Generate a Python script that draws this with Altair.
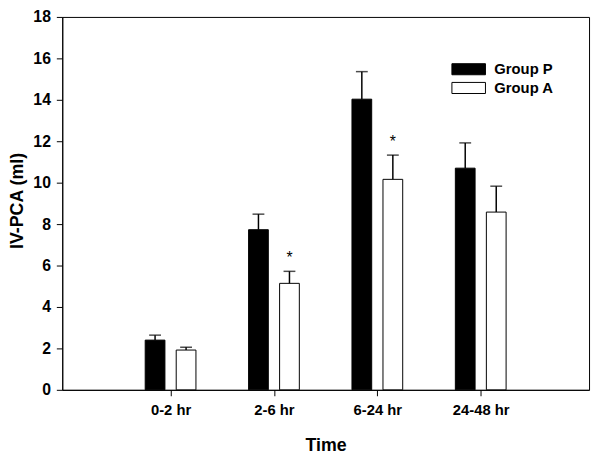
import json
import altair as alt
import pandas as pd

categories = ["0-2 hr", "2-6 hr", "6-24 hr", "24-48 hr"]
groups = ["Group P", "Group A"]
p_mean = [2.40, 7.73, 14.03, 10.70]
p_upper = [2.64, 8.48, 15.36, 11.92]
a_mean = [1.92, 5.14, 10.16, 8.58]
a_upper = [2.05, 5.72, 11.33, 9.83]
a_significant = [False, True, True, False]

rows = []
for i, cat in enumerate(categories):
    rows.append({"time": cat, "group": "Group P", "pos": i + 1 - 0.15,
                 "mean": p_mean[i], "upper": p_upper[i], "sig": False})
    rows.append({"time": cat, "group": "Group A", "pos": i + 1 + 0.15,
                 "mean": a_mean[i], "upper": a_upper[i], "sig": a_significant[i]})
df = pd.DataFrame(rows)

label_expr = json.dumps([""] + categories) + "[datum.value]"

x_enc = alt.X("pos:Q",
              scale=alt.Scale(domain=[0, 5], nice=False, zero=False),
              axis=alt.Axis(values=[1, 2, 3, 4], labelExpr=label_expr,
                            tickSize=6, labelPadding=7, labelFontSize=15,
                            labelFontWeight="bold", labelColor="black",
                            title="Time", titleFontSize=18, titleFontWeight="bold",
                            titleColor="black", titleX=267, titleY=61,
                            titleBaseline="alphabetic", grid=False,
                            domainColor="black", tickColor="black"))
y_scale = alt.Scale(domain=[0, 18], nice=False)
y_axis = alt.Axis(values=list(range(0, 19, 2)), tickSize=6, labelPadding=6,
                  labelFontSize=16, labelFontWeight="bold", labelColor="black",
                  title="IV-PCA (ml)", titleFontSize=18, titleFontWeight="bold",
                  titleColor="black", titleX=-40, titleY=186, titleAngle=-90,
                  titleBaseline="alphabetic", titleAlign="center", grid=False,
                  domainColor="black", tickColor="black")

base = alt.Chart(df)

bars = base.mark_bar(size=20, stroke="black", strokeWidth=1).encode(
    x=x_enc,
    y=alt.Y("mean:Q", scale=y_scale, axis=y_axis),
    fill=alt.Fill("group:N",
                  scale=alt.Scale(domain=groups, range=["black", "white"]),
                  legend=alt.Legend(title=None, orient="none", legendX=403, legendY=44,
                                    symbolType="M-2,-0.66H2V0.66H-2Z", symbolSize=289,
                                    symbolStrokeColor="black", symbolStrokeWidth=1,
                                    labelFontSize=15, labelFontWeight="bold",
                                    labelColor="black", labelOffset=17, padding=0,
                                    rowPadding=2, symbolOpacity=1)),
)

rules = base.mark_rule(color="black", strokeWidth=1.5).encode(
    x="pos:Q", y="mean:Q", y2="upper:Q")

caps = base.mark_tick(color="black", orient="horizontal", size=12, thickness=1.5).encode(
    x="pos:Q", y="upper:Q")

stars = base.transform_filter("datum.sig").mark_text(
    text="*", fontSize=16, color="black", baseline="alphabetic", dy=-8).encode(
    x="pos:Q", y="upper:Q")

chart = alt.layer(bars, rules, caps, stars).properties(
    width=534, height=378,
    autosize=alt.AutoSizeParams(type="none"),
    padding={"left": 55, "top": 6, "right": 3, "bottom": 63},
    background="white",
).configure(font="Liberation Sans").configure_view(
    stroke="black", strokeWidth=1)

chart.save("out.html", embed_options={"renderer": "svg", "actions": False})
